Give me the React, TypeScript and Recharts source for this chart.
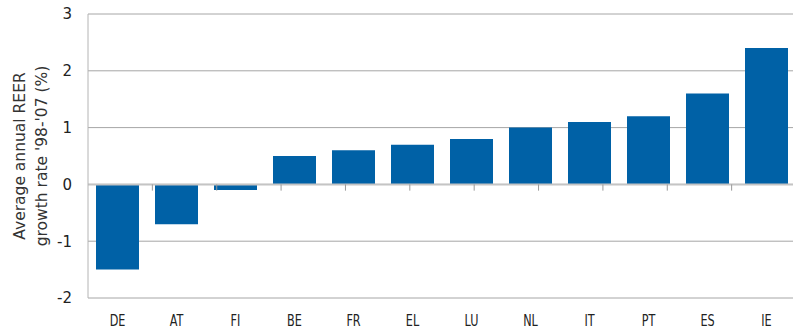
import { BarChart, Bar, XAxis, YAxis, CartesianGrid, ReferenceLine, Label } from "recharts";

// ================= DATA =================
const countries = ["DE", "AT", "FI", "BE", "FR", "EL", "LU", "NL", "IT", "PT", "ES", "IE"];
const reerGrowth = [-1.5, -0.7, -0.1, 0.5, 0.6, 0.7, 0.8, 1.0, 1.1, 1.2, 1.6, 2.4];
const yTicks = [-2, -1, 0, 1, 2, 3];
const boundaries = [1, 2, 3, 4, 5, 6, 7, 8, 9, 10, 11];

const data = countries.map((name, i) => ({ name, value: reerGrowth[i] }));

const BLUE = "#0061a6";

// eslint-disable-next-line
function CountryTick({ x, y, payload }: any) {
  return (
    <g transform={`translate(${x},${y + 20})`}>
      <text
        x={0}
        y={0}
        textAnchor="middle"
        fontSize={16}
        fill="#222"
        fontFamily="'DejaVu Sans Condensed', 'DejaVu Sans', sans-serif"
        transform="scale(0.78,1)"
      >
        {payload.value}
      </text>
    </g>
  );
}

// eslint-disable-next-line
function AxisTitle({ viewBox }: any) {
  const cy = viewBox.y + viewBox.height / 2;
  return (
    <g>
      <text
        transform={`translate(25,${cy}) rotate(-90)`}
        textAnchor="middle"
        fontSize={15.5}
        fill="#333"
        fontFamily="'DejaVu Sans', sans-serif"
      >
        Average annual REER
      </text>
      <text
        transform={`translate(47,${cy}) rotate(-90)`}
        textAnchor="middle"
        fontSize={15.5}
        fill="#333"
        fontFamily="'DejaVu Sans', sans-serif"
      >
        growth rate '98-'07 (%)
      </text>
    </g>
  );
}

export default function App() {
  return (
    <div style={{ position: "absolute", left: 0, top: 0, width: 793, height: 332, overflow: "hidden", background: "#fff" }}>
      <BarChart
        width={797}
        height={332}
        data={data}
        margin={{ top: 14, right: 1, bottom: 0, left: 0 }}
        barCategoryGap={0}
      >
        <CartesianGrid vertical={false} stroke="#a6a6a6" />
        <XAxis
          dataKey="name"
          axisLine={false}
          tickLine={false}
          height={34}
          interval={0}
          tick={<CountryTick />}
        />
        <XAxis xAxisId="num" type="number" domain={[0, 12]} hide />
        <YAxis
          width={88}
          domain={[-2, 3]}
          ticks={yTicks}
          interval={0}
          axisLine={{ stroke: "#b4b4b4" }}
          tickLine={false}
          tickMargin={10}
          tick={{ fontSize: 15, fill: "#222", fontFamily: "'DejaVu Sans', sans-serif" }}
        >
          <Label content={<AxisTitle />} />
        </YAxis>
        <ReferenceLine y={0} stroke="#c4c4c4" strokeWidth={2} />
        {boundaries.map((b) => (
          <ReferenceLine
            key={b}
            xAxisId="num"
            segment={[{ x: b, y: 0 }, { x: b, y: -0.11 }]}
            stroke="#999"
          />
        ))}
        <Bar dataKey="value" fill={BLUE} barSize={43} isAnimationActive={false} />
      </BarChart>
    </div>
  );
}
